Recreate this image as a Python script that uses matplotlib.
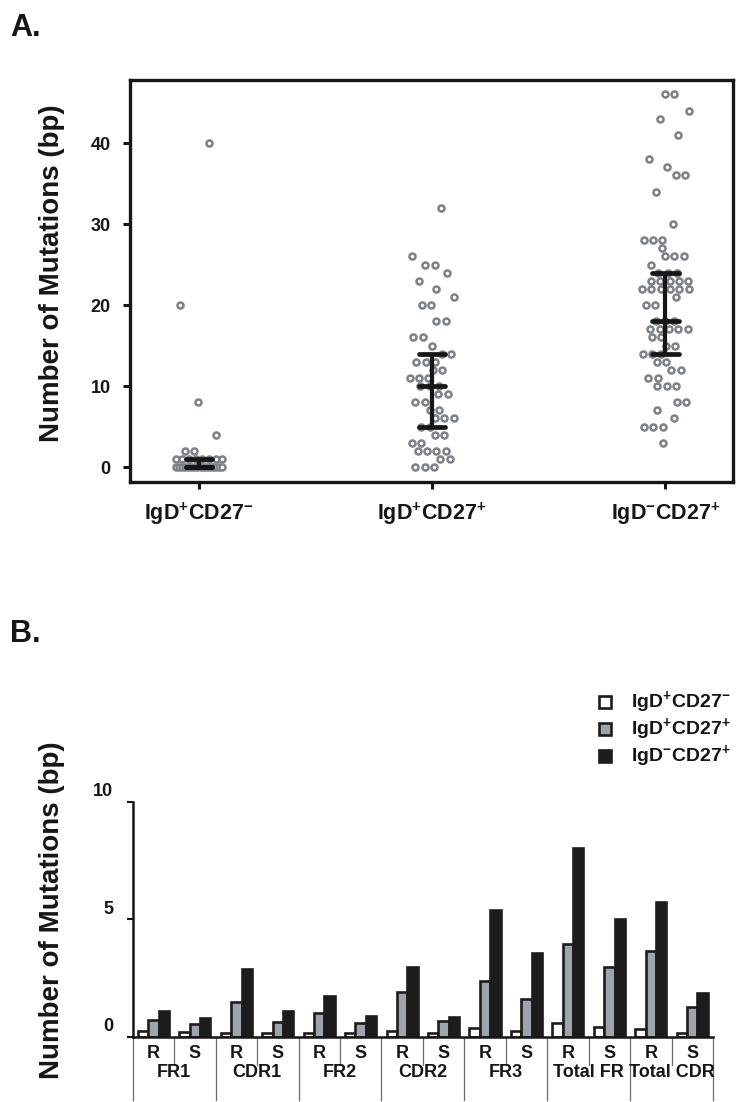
import numpy as np
import matplotlib
matplotlib.use("Agg")
import matplotlib.pyplot as plt
from matplotlib.patches import Rectangle
from matplotlib.transforms import ScaledTranslation

plt.rcParams['font.family'] = ['Liberation Sans', 'DejaVu Sans']
plt.rcParams['font.weight'] = 'bold'
plt.rcParams['mathtext.fontset'] = 'custom'
plt.rcParams['mathtext.rm'] = 'Liberation Sans:bold'
plt.rcParams['mathtext.bf'] = 'Liberation Sans:bold'
plt.rcParams['mathtext.it'] = 'Liberation Sans:bold'

# ---------------- data: panel A ----------------
group_labels = [r'IgD$^{+}$CD27$^{-}$', r'IgD$^{+}$CD27$^{+}$', r'IgD$^{-}$CD27$^{+}$']
grp1 = [40, 20, 8, 4, 2, 2] + [1] * 8 + [0] * 16
grp2 = [32, 26, 25, 25, 24, 23, 22, 21, 20, 20, 18, 18, 16, 16, 15, 14, 14,
        13, 13, 13, 12, 12, 11, 11, 11, 10, 10, 10, 9, 9, 8, 8, 7, 7, 6, 6, 6,
        5, 5, 4, 4, 3, 3, 2, 2, 2, 2, 1, 1, 0, 0, 0]
grp3 = [46, 46, 44, 43, 41, 38, 37, 36, 36, 34, 30, 28, 28, 28, 27, 26, 26, 26,
        25, 24, 24, 24, 23, 23, 23, 23, 23, 22, 22, 22, 22, 22, 22, 21, 20, 20,
        18, 18, 18, 17, 17, 17, 17, 17, 16, 16, 15, 15, 14, 14, 14, 13, 13,
        12, 12, 11, 11, 10, 10, 10, 8, 8, 7, 6, 5, 5, 5, 3]
medians = [0, 10, 18]
q1 = [0, 5, 14]
q3 = [1, 14, 24]
yticks_a = [0, 10, 20, 30, 40]

# ---------------- data: panel B ----------------
regions = ['FR1', 'CDR1', 'FR2', 'CDR2', 'FR3', 'Total FR', 'Total CDR']
kinds = ['R', 'S']
series_names = [r'IgD$^{+}$CD27$^{-}$', r'IgD$^{+}$CD27$^{+}$', r'IgD$^{-}$CD27$^{+}$']
naive = [0.26, 0.21, 0.17, 0.14, 0.15, 0.14, 0.24, 0.15, 0.38, 0.24, 0.60, 0.41, 0.33, 0.17]
unswitched = [0.71, 0.55, 1.49, 0.61, 1.02, 0.60, 1.92, 0.68, 2.37, 1.60, 3.93, 2.98, 3.65, 1.25]
switched = [1.10, 0.78, 2.90, 1.10, 1.73, 0.90, 2.98, 0.82, 5.39, 3.56, 8.04, 5.02, 5.73, 1.87]
yticks_b = [0, 5, 10]

W, H = 753, 1102
fig = plt.figure(figsize=(W / 100, H / 100), dpi=100)
INK = '#161616'


def swarm_x(values, center, half_width, step, phase):
    vals = np.asarray(values, dtype=float)
    xs = np.empty(len(vals))
    golden = 0.6180339887
    for k, v in enumerate(np.unique(vals)):
        idx = np.where(vals == v)[0]
        n = len(idx)
        sp = step if n == 1 else min(step, 2 * half_width / (n - 1))
        span = sp * (n - 1)
        room = max(half_width - span / 2, 0)
        shift = (((k + phase) * golden) % 1 - 0.5) * 2 * room
        xs[idx] = center + shift + (np.arange(n) - (n - 1) / 2) * sp
    return xs


# ---------------- panel A ----------------
axA = fig.add_axes([130 / W, 1 - 482 / H, 603 / W, 402 / H])
groups = [grp1, grp2, grp3]
for i, g in enumerate(groups):
    c = i + 1
    xs = swarm_x(g, c, 0.1, 0.04, i * 0.37)
    axA.scatter(xs, g, s=19, facecolor='white', edgecolor='#7d8288',
                linewidth=1.8, zorder=2)
for i in range(3):
    c = i + 1
    hw = 0.057
    axA.plot([c, c], [q1[i], q3[i]], color=INK, lw=3.0, zorder=3,
             solid_capstyle='butt')
    for yv in (q1[i], medians[i], q3[i]):
        axA.plot([c - hw, c + hw], [yv, yv], color=INK, lw=3.4, zorder=3,
                 solid_capstyle='round')
axA.set_xlim(0.704, 3.29)
axA.set_ylim(-1.85, 47.78)
axA.set_yticks(yticks_a)
axA.set_yticklabels([str(t) for t in yticks_a], fontsize=13, fontweight='bold')
axA.set_xticks([1, 2, 3])
axA.set_xticklabels(group_labels, fontsize=15.5, fontweight='bold')
axA.tick_params(axis='both', width=2.2, length=5, color=INK, labelcolor=INK)
axA.tick_params(axis='x', pad=8)
axA.tick_params(axis='y', pad=9)
for sp in axA.spines.values():
    sp.set_linewidth(2.4)
    sp.set_color(INK)
fig.text(52 / W, 1 - 273 / H, 'Number of Mutations (bp)', rotation=90,
         ha='center', va='center', fontsize=20, fontweight='bold', color=INK)
fig.text(10 / W, 1 - 28 / H, 'A.', ha='left', va='center', fontsize=22,
         fontweight='bold', color=INK)

# ---------------- panel B ----------------
axB = fig.add_axes([132.7 / W, 1 - 1036.7 / H, (713 - 132.7) / W, 235 / H])
n_slots = len(naive)
pos = np.arange(n_slots)
bw = 0.25
colors = ['#ffffff', '#9da4ab', '#1c1c1c']
for off, vals, col in zip([-bw, 0, bw], [naive, unswitched, switched], colors):
    axB.bar(pos + off, vals, width=bw, color=col, edgecolor='#1c1c1c',
            linewidth=1.9, zorder=2)
axB.set_xlim(-0.5, n_slots - 0.5)
axB.set_ylim(0, 10)
axB.set_yticks(yticks_b)
axB.set_yticklabels([str(t) for t in yticks_b], fontsize=13, fontweight='bold')
axB.tick_params(axis='y', width=1.5, length=4, pad=10, color=INK, labelcolor=INK)
for lab in axB.get_yticklabels():
    lab.set_transform(lab.get_transform() + ScaledTranslation(0, 12 / 100, fig.dpi_scale_trans))
axB.set_xticks([])
for s in ['top', 'right']:
    axB.spines[s].set_visible(False)
for s in ['left', 'bottom']:
    axB.spines[s].set_linewidth(1.8)
    axB.spines[s].set_color(INK)

# category table below the axis
for k in range(n_slots + 1):
    xb = k - 0.5
    ybot = -0.27 if k % 2 == 0 else -0.12
    axB.plot([xb, xb], [0, ybot], transform=axB.get_xaxis_transform(),
             color='#6a6a6a', lw=0.9, clip_on=False, zorder=1)
for k in range(n_slots):
    axB.text(k, -0.07, kinds[k % 2], transform=axB.get_xaxis_transform(),
             ha='center', va='center', fontsize=13, fontweight='bold', color=INK)
for j, name in enumerate(regions):
    axB.text(2 * j + 0.5, -0.152, name, transform=axB.get_xaxis_transform(),
             ha='center', va='center', fontsize=13, fontweight='bold', color=INK)

fig.text(52 / W, 1 - 910 / H, 'Number of Mutations (bp)', rotation=90,
         ha='center', va='center', fontsize=20, fontweight='bold', color=INK)
fig.text(10 / W, 1 - 634 / H, 'B.', ha='left', va='center', fontsize=22,
         fontweight='bold', color=INK)

# legend
leg_y = [702, 729, 756]
for yy, col, name in zip(leg_y, colors, series_names):
    fig.patches.append(Rectangle((599 / W, 1 - (yy + 6) / H), 12 / W, 12 / H,
                                 transform=fig.transFigure, facecolor=col,
                                 edgecolor='#1c1c1c', linewidth=1.9))
    fig.text(631 / W, 1 - yy / H, name, ha='left', va='center', fontsize=14,
             fontweight='bold', color=INK)

fig.savefig('out.png', dpi=100)
